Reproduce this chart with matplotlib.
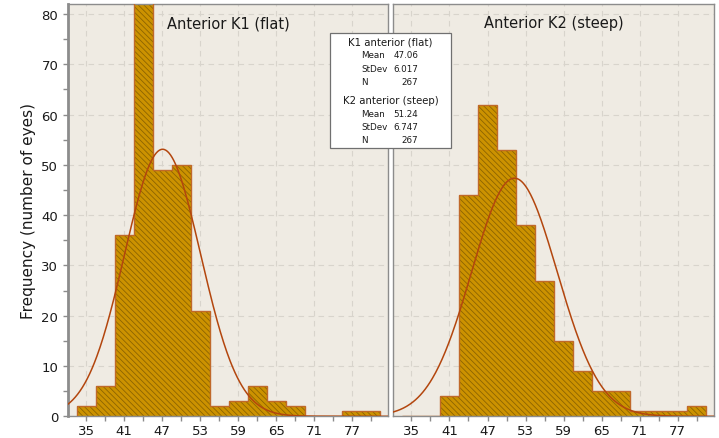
import numpy as np
import matplotlib
matplotlib.use('Agg')
import matplotlib.pyplot as plt
from matplotlib.ticker import MultipleLocator, FixedLocator
from matplotlib.patches import Rectangle

# histogram bins (centres, width 3 D)
bin_centers = [35, 38, 41, 44, 47, 50, 53, 56, 59, 62, 65, 68, 71, 74, 77, 80]
k1_counts = [2, 6, 36, 85, 49, 50, 21, 2, 3, 6, 3, 2, 0, 0, 1, 1]
k2_counts = [0, 0, 4, 44, 62, 53, 38, 27, 15, 9, 5, 5, 1, 1, 1, 2]

# fitted normal parameters
k1_stats = {'mean': 47.06, 'sd': 6.017, 'n': 267}
k2_stats = {'mean': 51.24, 'sd': 6.747, 'n': 267}

titles = ['Anterior K1 (flat)', 'Anterior K2 (steep)']
xtick_labels = [35, 41, 47, 53, 59, 65, 71, 77]

BIN_W = 3
XLIM = (32.1, 82.7)
YLIM = (0, 82)
PANEL_BG = '#efebe3'
BAR_FILL = '#cc9200'
HATCH_COL = '#8c6400'
OUTLINE = '#c0692a'
CURVE = '#b3460e'
FRAME = '#8c8c8c'
TXT = '#1a1a1a'

plt.rcParams['font.family'] = ['DejaVu Sans']
plt.rcParams['hatch.linewidth'] = 0.6

fig = plt.figure(figsize=(7.19, 4.39), dpi=100)
W, H = 719.0, 439.0
bottom = 1 - 417.3 / H
top = 1 - 5 / H
ax1 = fig.add_axes([68 / W, bottom, 320 / W, top - bottom])
ax2 = fig.add_axes([393 / W, bottom, 321 / W, top - bottom])


def draw_panel(ax, counts, stats, title):
    ax.set_facecolor(PANEL_BG)
    centers = np.array(bin_centers, dtype=float)
    edges = np.append(centers - BIN_W / 2, centers[-1] + BIN_W / 2)
    # hatched fill, then one outline around the whole histogram
    ax.bar(centers, counts, width=BIN_W, color=BAR_FILL, edgecolor=HATCH_COL,
           linewidth=0, hatch='\\' * 6, zorder=2)
    ax.stairs(counts, edges, color=OUTLINE, linewidth=1.0, zorder=3)

    # fitted normal curve scaled to counts
    xs = np.linspace(XLIM[0], XLIM[1], 400)
    scale = stats['n'] * BIN_W / (stats['sd'] * np.sqrt(2 * np.pi))
    ys = scale * np.exp(-0.5 * ((xs - stats['mean']) / stats['sd']) ** 2)
    ax.plot(xs, ys, color=CURVE, linewidth=1.1, zorder=4)

    ax.set_xlim(*XLIM)
    ax.set_ylim(*YLIM)
    ax.xaxis.set_major_locator(FixedLocator(xtick_labels))
    ax.xaxis.set_minor_locator(FixedLocator([x + 3 for x in xtick_labels]))
    ax.yaxis.set_major_locator(MultipleLocator(10))
    ax.yaxis.set_minor_locator(MultipleLocator(5))
    ax.grid(True, which='major', color='#d8d4cc', linestyle=(0, (5, 4)),
            linewidth=0.8, zorder=0)
    ax.set_axisbelow(True)
    ax.tick_params(which='both', direction='out', colors=FRAME,
                   labelcolor=TXT, labelsize=9.5, length=3.5, width=1)
    ax.tick_params(axis='x', which='major', pad=2)
    for s in ax.spines.values():
        s.set_color(FRAME)
        s.set_linewidth(1.0)
    ax.text(0.5, 0.955, title, transform=ax.transAxes, ha='center', va='center',
            fontsize=10.5, color=TXT)


draw_panel(ax1, k1_counts, k1_stats, titles[0])
draw_panel(ax2, k2_counts, k2_stats, titles[1])
ax1.spines['left'].set_linewidth(2)
ax1.set_ylabel('Frequency (number of eyes)', fontsize=11, color=TXT, labelpad=4)
ax2.tick_params(axis='y', which='both', left=False, labelleft=False)

# summary box spanning both panels
def fx(px):
    return px / W


def fy(py):
    return 1 - py / H


box = Rectangle((fx(329.5), fy(149)), fx(451) - fx(329.5), fy(33.5) - fy(149),
                transform=fig.transFigure, facecolor='white', edgecolor='#707070',
                linewidth=0.9, zorder=10)
fig.patches.append(box)

rows = [
    ('K1 anterior (flat)', k1_stats, 42.3, 56, 69.3, 82.3),
    ('K2 anterior (steep)', k2_stats, 100.7, 114.7, 127.7, 140.7),
]
for head, st, yh, ym, ysd, yn in rows:
    fig.text(fx(390.5), fy(yh), head, ha='center', va='center', fontsize=7.3,
             color=TXT, zorder=11)
    for label, val, yy in [('Mean', f"{st['mean']:.2f}", ym),
                           ('StDev', f"{st['sd']:.3f}", ysd),
                           ('N', f"{st['n']}", yn)]:
        fig.text(fx(361.5), fy(yy), label, ha='left', va='center', fontsize=6.3,
                 color=TXT, zorder=11)
        fig.text(fx(418.5), fy(yy), val, ha='right', va='center', fontsize=6.3,
                 color=TXT, zorder=11)

fig.savefig('out.png', dpi=100, facecolor='white')
